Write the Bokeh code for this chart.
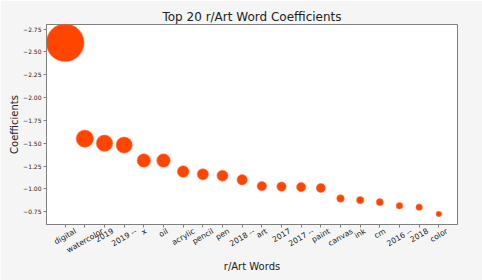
import math
from bokeh.plotting import figure
from bokeh.models import (Range1d, FixedTicker, ColumnDataSource, LinearAxis,
                          CustomJSTickFormatter)
from bokeh.embed import file_html
from bokeh.resources import INLINE

words = ["digital", "watercolor", "2019", "2019 --", "x", "oil", "acrylic", "pencil",
         "pen", "2018 --", "art", "2017", "2017 --", "paint", "canvas", "ink", "cm",
         "2016 --", "2018", "color"]
coefs = [-2.60, -1.55, -1.50, -1.48, -1.31, -1.31, -1.19, -1.16, -1.145, -1.10,
         -1.03, -1.025, -1.02, -1.01, -0.895, -0.877, -0.855, -0.815, -0.80, -0.725]
y_ticks = [-2.75, -2.5, -2.25, -2.0, -1.75, -1.5, -1.25, -1.0, -0.75]
y_tick_labels = ["\u22122.75", "\u22122.50", "\u22122.25", "\u22122.00", "\u22121.75",
                 "\u22121.50", "\u22121.25", "\u22121.00", "\u22120.75"]

xs = list(range(len(words)))
sizes = [9 * abs(c) ** 1.5 for c in coefs]
src = ColumnDataSource(dict(x=xs, y=coefs, size=sizes, word=words))

FONT = "DejaVu Sans"
TEXT = "#222222"
EDGE = "#808080"
W, H = 482, 280
BL, BR, BT, BB = 46, 25, 24, 56
X0, X1 = -0.95, 19.95

p = figure(width=W, height=H, output_backend="svg", toolbar_location=None,
           x_range=Range1d(X0, X1), y_range=Range1d(-0.61, -2.80),
           min_border_left=BL, min_border_right=BR, min_border_top=BT,
           min_border_bottom=BB, title="Top 20 r/Art Word Coefficients")

p.border_fill_color = "#f5f5f5"
p.background_fill_color = "#ffffff"
p.outline_line_color = EDGE
p.outline_line_width = 1
p.grid.visible = False

p.title.text_font = FONT
p.title.text_font_size = "12px"
p.title.text_font_style = "normal"
p.title.text_color = TEXT
p.title.align = "center"
p.title.standoff = 2

p.scatter("x", "y", size="size", source=src, fill_color="#ff4500",
          line_color="#ff7a4d", line_width=0.6)

# axis 1: tick marks only
xa = p.xaxis[0]
xa.ticker = FixedTicker(ticks=xs)
xa.major_label_overrides = {i: "" for i in xs}
xa.major_label_text_font_size = "0px"
xa.major_label_standoff = 0

# axis 2: rotated labels whose bounding boxes are centred under the ticks
LABEL_FS = 7.7
ADV = {"a": .613, "c": .550, "d": .635, "e": .615, "g": .635, "i": .278, "k": .579,
       "l": .278, "m": .974, "n": .634, "o": .612, "p": .635, "r": .411, "s": .521,
       "t": .392, "v": .592, "w": .818, "x": .592, " ": .318, "-": .361}
px_per_unit = (W - BL - BR) / (X1 - X0)
ang = math.radians(30)
label_ticks = [xi + sum(ADV.get(ch, .636) for ch in w) * LABEL_FS * math.cos(ang) / 2 / px_per_unit
               for xi, w in zip(xs, words)]
xb = LinearAxis(ticker=FixedTicker(ticks=label_ticks),
                formatter=CustomJSTickFormatter(args=dict(labels=words),
                                                code="return labels[index];"))
xb.major_label_orientation = ang
xb.major_label_text_font = FONT
xb.major_label_text_font_size = f"{LABEL_FS}px"
xb.major_label_text_color = TEXT
xb.major_label_standoff = -3
xb.major_tick_line_color = None
xb.minor_tick_line_color = None
xb.axis_line_color = None
xb.axis_label = "r/Art Words"
xb.axis_label_text_font = FONT
xb.axis_label_text_font_size = "10px"
xb.axis_label_text_font_style = "normal"
xb.axis_label_text_color = TEXT
xb.axis_label_standoff = -1
p.add_layout(xb, "below")

ya = p.yaxis[0]
ya.ticker = FixedTicker(ticks=y_ticks)
ya.major_label_overrides = {t: l for t, l in zip(y_ticks, y_tick_labels)}
ya.major_label_text_font = FONT
ya.major_label_text_font_size = "6px"
ya.major_label_text_color = TEXT
ya.major_label_standoff = 2
ya.axis_label = "Coefficients"
ya.axis_label_text_font = FONT
ya.axis_label_text_font_size = "10px"
ya.axis_label_text_font_style = "normal"
ya.axis_label_text_color = TEXT
ya.axis_label_standoff = 0

for ax in (xa, ya):
    ax.axis_line_color = EDGE
    ax.major_tick_line_color = EDGE
    ax.major_tick_out = 3
    ax.major_tick_in = 0
    ax.minor_tick_line_color = None

open("out.html", "w").write(file_html(p, INLINE))
